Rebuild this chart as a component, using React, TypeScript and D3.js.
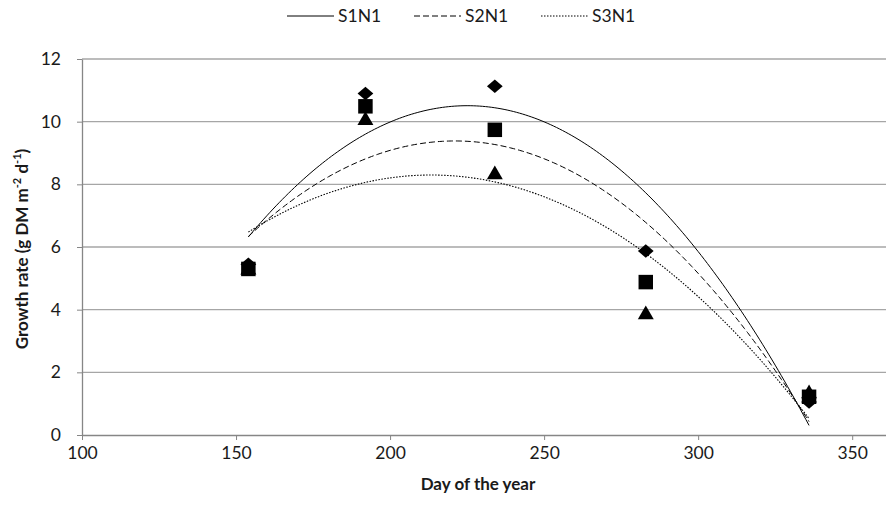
import React, { useEffect, useRef } from 'react';
import * as d3 from 'd3';

const days = [154, 192, 234, 283, 336];
const s1n1 = [5.45, 10.9, 11.13, 5.87, 1.05];
const s2n1 = [5.3, 10.49, 9.74, 4.88, 1.22];
const s3n1 = [5.3, 10.07, 8.34, 3.87, 1.35];
const seriesNames = ['S1N1', 'S2N1', 'S3N1'];
const xTicks = [100, 150, 200, 250, 300, 350];
const yTicks = [0, 2, 4, 6, 8, 10, 12];

const W = 886;
const H = 506;
const FONT = 'Lato, "Open Sans", sans-serif';

// quadratic least squares, like an Excel polynomial trendline
const polyFit2 = (xs: number[], ys: number[]) => {
	const n = xs.length;
	const m = d3.mean(xs) as number;
	const u = xs.map((x) => x - m);
	const s = (p: number) => d3.sum(u, (v) => Math.pow(v, p));
	const t = (p: number) => d3.sum(u, (v, i) => Math.pow(v, p) * ys[i]);
	const A = [
		[n, s(1), s(2)],
		[s(1), s(2), s(3)],
		[s(2), s(3), s(4)],
	];
	const b = [t(0), t(1), t(2)];
	// gaussian elimination
	for (let i = 0; i < 3; i++) {
		for (let j = i + 1; j < 3; j++) {
			const f = A[j][i] / A[i][i];
			for (let k = i; k < 3; k++) A[j][k] -= f * A[i][k];
			b[j] -= f * b[i];
		}
	}
	const c = [0, 0, 0];
	for (let i = 2; i >= 0; i--) {
		let acc = b[i];
		for (let k = i + 1; k < 3; k++) acc -= A[i][k] * c[k];
		c[i] = acc / A[i][i];
	}
	return (x: number) => c[0] + c[1] * (x - m) + c[2] * (x - m) * (x - m);
};

// excel-ish diamond: slightly wider than tall
const wideDiamond = {
	draw(ctx: any, size: number) {
		const r = Math.sqrt(size) / 2;
		ctx.moveTo(0, -r * 0.9);
		ctx.lineTo(r * 1.05, 0);
		ctx.lineTo(0, r * 0.9);
		ctx.lineTo(-r * 1.05, 0);
		ctx.closePath();
	},
};

const drawChart = (element: SVGSVGElement) => {
	const svg = d3.select(element);
	svg.selectAll('*').remove();

	const x = d3.scaleLinear().domain([100, 360]).range([82, 883]);
	const y = d3.scaleLinear().domain([0, 12]).range([435, 59]);

	// gridlines
	svg.append('g')
		.selectAll('line')
		.data(yTicks.filter((d) => d > 0))
		.enter()
		.append('line')
		.attr('x1', x(100))
		.attr('x2', W)
		.attr('y1', (d) => y(d))
		.attr('y2', (d) => y(d))
		.attr('stroke', '#a6a6a6')
		.attr('stroke-width', 1.3);

	// y axis
	const yAxis = svg.append('g').attr('transform', `translate(${x(100)},0)`)
		.call(d3.axisLeft(y).tickValues(yTicks).tickSize(5).tickSizeOuter(0));
	yAxis.select('.domain').attr('stroke', '#868686').attr('stroke-width', 1.3);
	yAxis.selectAll('.tick line').attr('stroke', '#868686');
	yAxis.selectAll('.tick text')
		.attr('x', -21)
		.style('font-family', FONT)
		.style('font-size', '17.5px')
		.attr('fill', '#1a1a1a');

	// x axis
	const xAxis = svg.append('g').attr('transform', `translate(0,${y(0)})`)
		.call(d3.axisBottom(x).tickValues(xTicks).tickSize(5).tickSizeOuter(0));
	xAxis.select('.domain').attr('d', `M${x(100)},0.5H${W}`).attr('stroke', '#868686').attr('stroke-width', 1.3);
	xAxis.selectAll('.tick line').attr('stroke', '#868686');
	xAxis.selectAll('.tick text')
		.attr('y', 12)
		.style('font-family', FONT)
		.style('font-size', '17.5px')
		.attr('fill', '#1a1a1a');

	// trendlines
	const dashes = ['none', '6,3', '1.5,1.5'];
	const allSeries = [s1n1, s2n1, s3n1];
	const xs = d3.range(days[0], days[days.length - 1] + 0.5, 1);
	allSeries.forEach((vals, i) => {
		const f = polyFit2(days, vals);
		const line = d3.line<number>().x((d) => x(d)).y((d) => y(f(d))).curve(d3.curveMonotoneX);
		svg.append('path')
			.attr('d', line(xs))
			.attr('fill', 'none')
			.attr('stroke', '#000')
			.attr('stroke-width', i === 2 ? 1.1 : 1)
			.attr('stroke-dasharray', dashes[i]);
	});

	// markers
	const symbols: any[] = [wideDiamond, d3.symbolSquare, d3.symbolTriangle];
	const sizes = [225, 210, 110];
	allSeries.forEach((vals, i) => {
		const sym = d3.symbol().type(symbols[i]).size(sizes[i]);
		svg.append('g')
			.selectAll('path')
			.data(vals)
			.enter()
			.append('path')
			.attr('d', sym)
			.attr('transform', (d, j) => `translate(${x(days[j])},${y(d) + (i === 2 ? 1 : 0)})`)
			.attr('fill', '#000');
	});

	// legend
	const legend = svg.append('g');
	seriesNames.forEach((name, i) => {
		const x0 = 287 + i * 127;
		legend.append('line')
			.attr('x1', x0)
			.attr('x2', x0 + 47)
			.attr('y1', 16)
			.attr('y2', 16)
			.attr('stroke', '#000')
			.attr('stroke-width', 1)
			.attr('stroke-dasharray', dashes[i]);
		legend.append('text')
			.attr('x', x0 + 51)
			.attr('y', 22)
			.style('font-family', FONT)
			.style('font-size', '17.5px')
			.attr('fill', '#1a1a1a')
			.text(name);
	});

	// axis titles
	svg.append('text')
		.attr('x', (x(100) + W) / 2 - 6)
		.attr('y', 490)
		.attr('text-anchor', 'middle')
		.style('font-family', FONT)
		.style('font-size', '17px')
		.style('font-weight', 'bold')
		.attr('fill', '#1a1a1a')
		.text('Day of the year');

	const yt = svg.append('text')
		.attr('transform', `translate(28,${(y(0) + y(12)) / 2 + 2}) rotate(-90)`)
		.attr('text-anchor', 'middle')
		.style('font-family', FONT)
		.style('font-size', '17px')
		.style('font-weight', 'bold')
		.attr('fill', '#1a1a1a');
	yt.append('tspan').text('Growth rate (g DM m');
	yt.append('tspan').attr('dy', -7).style('font-size', '11px').text('-2');
	yt.append('tspan').attr('dy', 7).text(' d');
	yt.append('tspan').attr('dy', -7).style('font-size', '11px').text('-1');
	yt.append('tspan').attr('dy', 7).text(')');
};

export default function App() {
	const ref = useRef<SVGSVGElement>(null);
	useEffect(() => {
		if (ref.current) drawChart(ref.current);
	}, []);
	return (
		<svg
			ref={ref}
			width={W}
			height={H}
			style={{ position: 'absolute', left: 0, top: 0, background: '#fff' }}
		/>
	);
}
